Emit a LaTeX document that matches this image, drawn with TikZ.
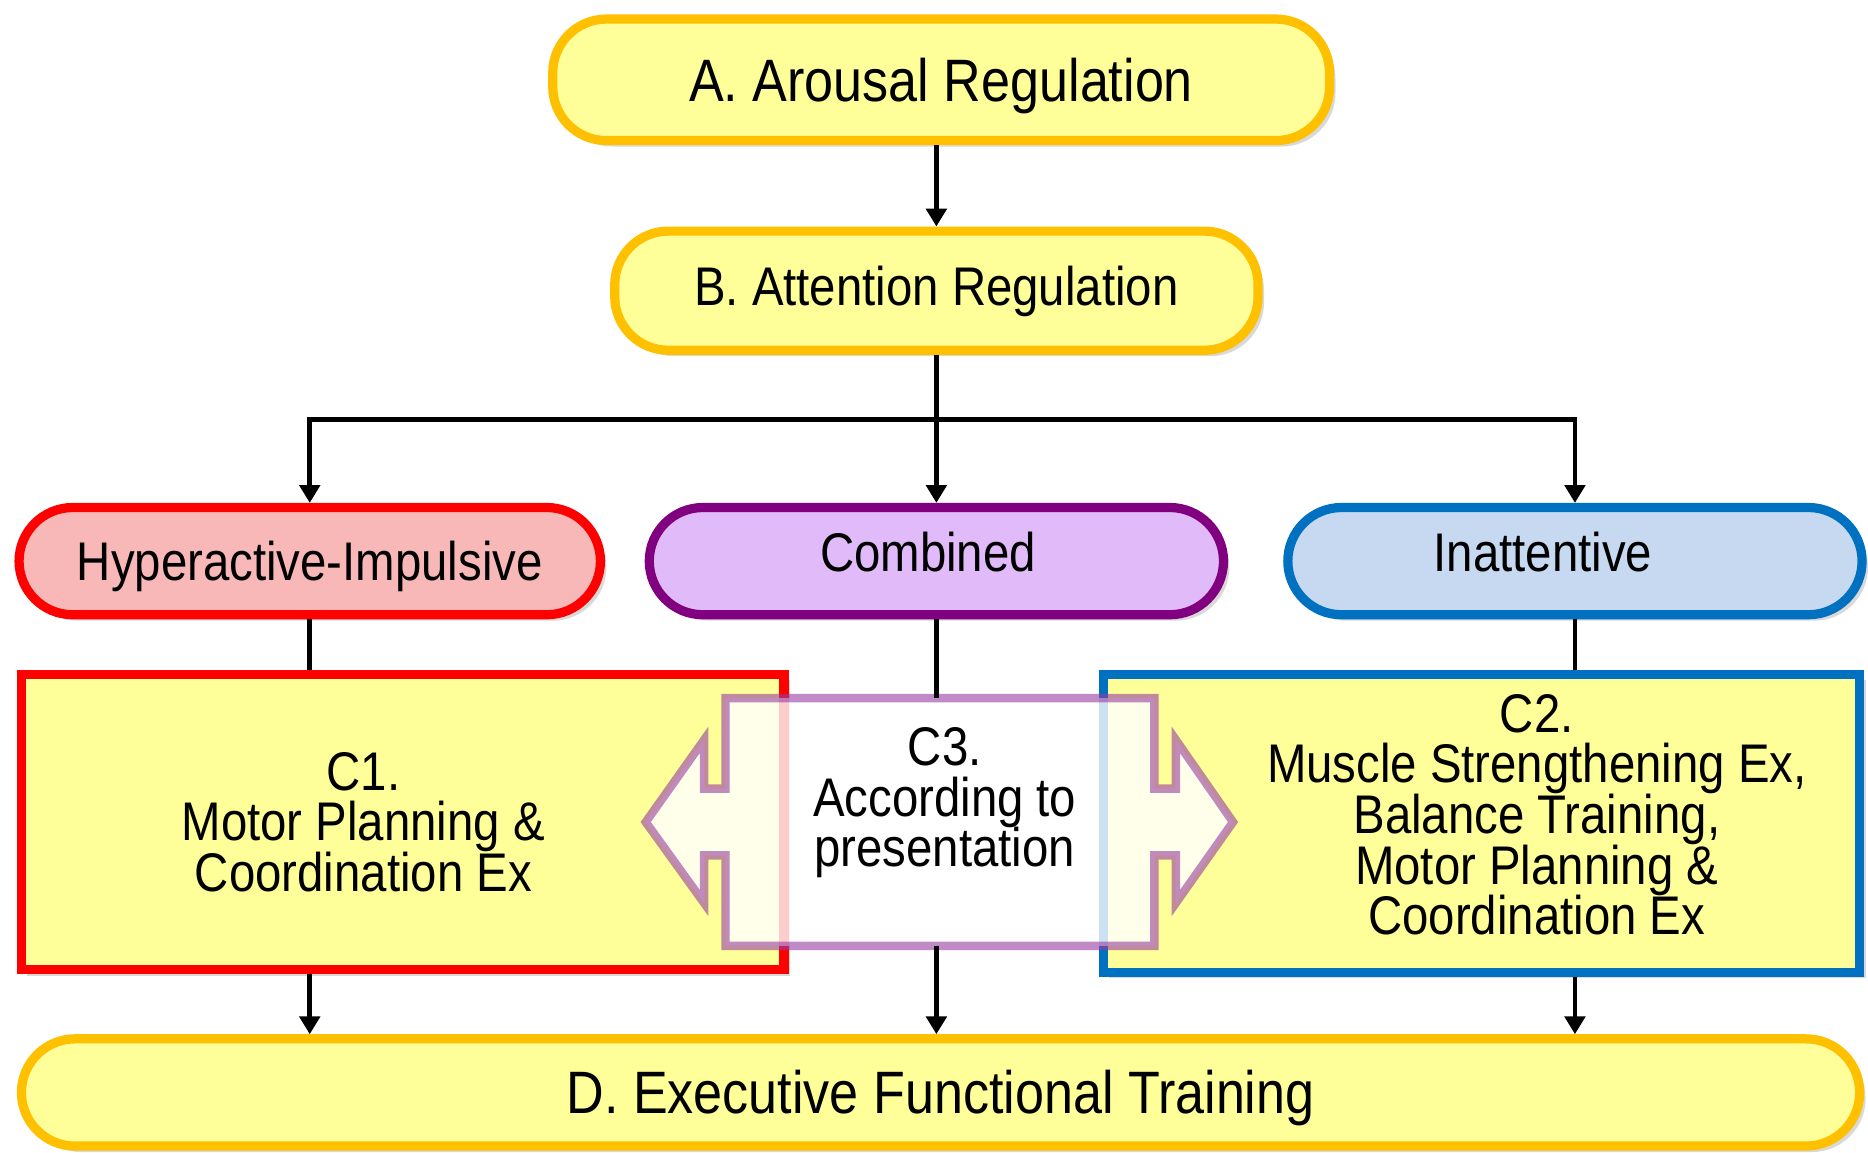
\documentclass[tikz,border=0pt]{standalone}
\usepackage{fontspec}
\setmainfont[FakeStretch=0.87]{Liberation Sans}
\usetikzlibrary{arrows.meta,shadows}
\setlength{\lineskiplimit}{-8pt}

\definecolor{paleyellow}{HTML}{FFFF99}
\definecolor{goldline}{HTML}{FFC000}
\definecolor{hypfill}{HTML}{F8B8B8}
\definecolor{combfill}{HTML}{E1BAF9}
\definecolor{combline}{HTML}{800080}
\definecolor{inatfill}{HTML}{C6D9F1}
\definecolor{inatline}{HTML}{0070C0}
\definecolor{c3line}{RGB}{150,60,160}

\begin{document}
\begin{tikzpicture}[scale=1, every node/.style={font=\fontsize{13}{12.1}\selectfont},
  shade/.style={drop shadow={shadow xshift=0.05cm, shadow yshift=-0.05cm, opacity=0.3}},
  pill/.style={draw, line width=2.2pt, rounded corners=0.45cm, inner sep=0pt, text height=9.3pt, text depth=0pt, shade},
  goal/.style={pill, draw=goldline, fill=paleyellow},
  bigtext/.style={font=\fontsize{14.3}{14}\selectfont, text height=10.2pt},
  exbox/.style={draw, line width=2.2pt, fill=paleyellow, inner sep=0pt, shade},
  link/.style={line width=1.1pt},
  arr/.style={link, -{Triangle[width=0.17cm, length=0.15cm]}}]
  \useasboundingbox (0,0) rectangle (15.68,-9.67);

  \node[goal, bigtext, minimum width=6.52cm, minimum height=1.02cm] (A) at (7.90,-0.67) {A. Arousal Regulation};
  \node[goal, minimum width=5.40cm, minimum height=1.00cm, text depth=0.08cm] (B) at (7.86,-2.44) {B. Attention Regulation};

  \node[pill, draw=red, fill=hypfill, minimum width=4.88cm, minimum height=0.90cm] (HI) at (2.60,-4.71) {Hyperactive-Impulsive};
  \node[pill, draw=combline, fill=combfill, minimum width=4.82cm, minimum height=0.90cm, text depth=0.15cm] (Comb) at (7.86,-4.71) {\hspace*{-0.14cm}Combined};
  \node[pill, draw=inatline, fill=inatfill, minimum width=4.82cm, minimum height=0.90cm, text depth=0.15cm] (Inatt) at (13.22,-4.71) {\hspace*{-0.54cm}Inattentive};

  \node[exbox, draw=red, minimum width=6.40cm, minimum height=2.48cm] (C1) at (3.38,-6.90) {};
  \node[exbox, draw=inatline, minimum width=6.35cm, minimum height=2.50cm] (C2) at (12.435,-6.91) {};
  \node[align=center] (C1txt) at (3.05,-6.90) {C1.\\Motor Planning \&\\Coordination Ex};
  \node[align=center] (C2txt) at (12.90,-6.84) {C2.\\Muscle Strengthening Ex,\\Balance Training,\\Motor Planning \&\\Coordination Ex};

  \draw[line width=2pt, draw=c3line, draw opacity=0.6, fill=white, fill opacity=0.8]
    (6.09,-5.86) -- (9.69,-5.86) -- (9.69,-6.62) -- (9.87,-6.62) -- (9.87,-6.21)
    -- (10.35,-6.90) -- (9.87,-7.58) -- (9.87,-7.18) -- (9.69,-7.18) -- (9.69,-7.94)
    -- (6.09,-7.94) -- (6.09,-7.18) -- (5.91,-7.18) -- (5.91,-7.58) -- (5.42,-6.90)
    -- (5.91,-6.21) -- (5.91,-6.62) -- (6.09,-6.62) -- cycle;
  \node[minimum width=3.60cm, minimum height=2.08cm, inner sep=0pt, outer sep=0pt] (C3) at (7.89,-6.90) {};
  \node[align=center] (C3txt) at (7.93,-6.74) {C3.\\According to\\presentation};

  \node[goal, bigtext, minimum width=15.43cm, minimum height=0.90cm] (D) at (7.895,-9.17) {D. Executive Functional Training};

  \coordinate (fork) at (7.86,-3.52);
  \draw[arr] (A.south -| B) -- (B);
  \draw[link] (B) -- (fork);
  \draw[arr] (fork) -| (HI);
  \draw[arr] (fork) -- (Comb);
  \draw[arr] (fork) -| (Inatt);

  \draw[link] (HI) -- (HI |- C1.north);
  \draw[link] (Comb) -- (Comb |- C3.north);
  \draw[link] (Inatt) -- (Inatt |- C2.north);
  \draw[arr] (HI |- C1.south) -- (HI |- D.north);
  \draw[arr] (Comb |- C3.south) -- (Comb |- D.north);
  \draw[arr] (Inatt |- C2.south) -- (Inatt |- D.north);
\end{tikzpicture}
\end{document}
